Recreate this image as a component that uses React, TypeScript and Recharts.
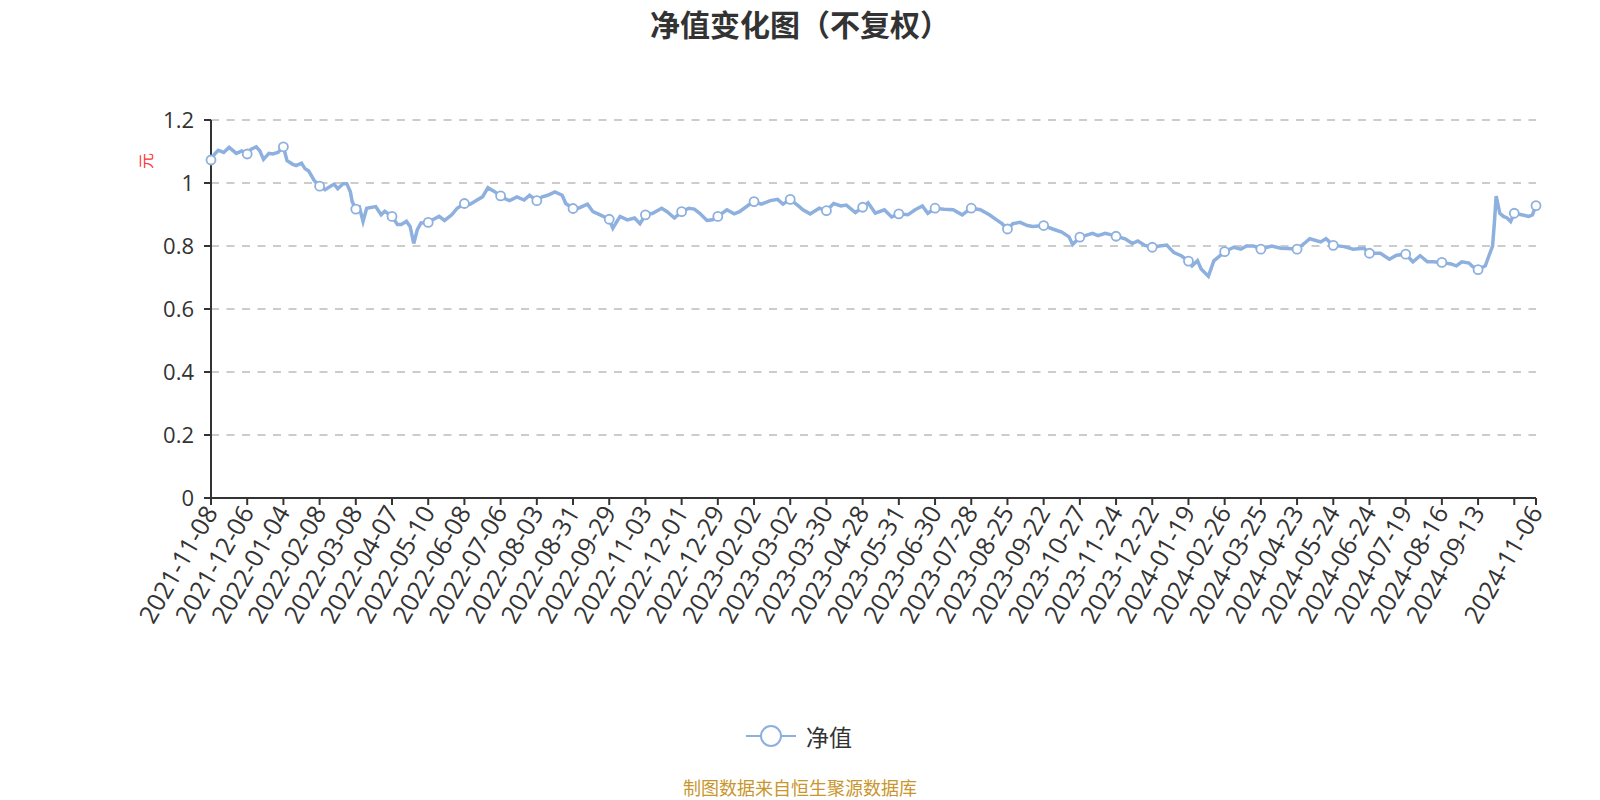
import React from 'react';
import { LineChart, Line, XAxis, YAxis, CartesianGrid } from 'recharts';

const tradingDay = [0,2,4,7,10,14,17,20,22,25,27,29,32,34,37,40,42,45,47,50,52,54,57,60,63,66,68,70,73,75,77,78,80,82,84,86,91,94,96,100,103,105,108,110,112,114,116,120,123,126,129,133,136,140,143,147,150,153,156,160,162,165,169,173,176,180,183,186,190,194,196,200,203,208,211,215,220,222,226,230,234,237,240,244,249,252,256,260,264,267,270,274,277,280,285,289,292,297,300,304,309,313,316,320,325,327,331,336,340,344,348,351,356,360,363,367,372,376,380,385,389,393,396,400,405,410,415,420,425,430,434,437,440,443,447,451,454,460,465,470,474,476,480,487,490,494,497,500,505,509,512,516,520,524,528,532,536,540,542,545,547,551,554,557,560,565,569,572,576,580,586,591,595,600,604,607,613,616,620,626,631,637,640,646,651,655,660,664,668,672,675,680,685,688,691,695,697,700,704,706,708,709,710,712,714,716,718,720,724,728,730,732];

const navValue = [1.073,1.092,1.104,1.097,1.113,1.094,1.102,1.092,1.107,1.115,1.102,1.075,1.094,1.092,1.097,1.115,1.071,1.060,1.055,1.063,1.045,1.038,1.008,0.990,0.979,0.990,0.996,0.982,0.998,0.998,0.972,0.941,0.917,0.923,0.878,0.920,0.925,0.899,0.910,0.894,0.868,0.868,0.878,0.862,0.808,0.852,0.873,0.875,0.885,0.894,0.881,0.899,0.920,0.935,0.932,0.946,0.956,0.985,0.975,0.959,0.951,0.944,0.956,0.946,0.961,0.944,0.956,0.961,0.972,0.961,0.935,0.919,0.920,0.933,0.909,0.899,0.885,0.857,0.894,0.883,0.889,0.871,0.899,0.904,0.920,0.909,0.889,0.909,0.920,0.917,0.904,0.881,0.883,0.894,0.915,0.902,0.909,0.930,0.941,0.933,0.944,0.948,0.933,0.948,0.925,0.915,0.902,0.920,0.912,0.935,0.927,0.930,0.906,0.923,0.937,0.904,0.915,0.892,0.902,0.899,0.915,0.927,0.904,0.920,0.917,0.915,0.899,0.920,0.915,0.899,0.883,0.871,0.854,0.871,0.875,0.865,0.862,0.865,0.854,0.844,0.829,0.805,0.828,0.840,0.833,0.840,0.836,0.831,0.823,0.808,0.816,0.802,0.796,0.800,0.803,0.779,0.769,0.752,0.737,0.753,0.727,0.704,0.753,0.767,0.782,0.796,0.790,0.800,0.800,0.790,0.800,0.793,0.792,0.790,0.808,0.823,0.813,0.823,0.802,0.798,0.790,0.793,0.777,0.777,0.758,0.771,0.774,0.750,0.769,0.750,0.750,0.748,0.743,0.737,0.750,0.746,0.735,0.725,0.737,0.769,0.800,0.873,0.958,0.904,0.894,0.889,0.878,0.904,0.899,0.894,0.899,0.928];

const tickDays = [0,20,40,60,80,100,120,140,160,180,200,220,240,260,280,300,320,340,360,380,400,420,440,460,480,500,520,540,560,580,600,620,640,660,680,700,720,732];
const tickDates = ['2021-11-08','2021-12-06','2022-01-04','2022-02-08','2022-03-08','2022-04-07','2022-05-10','2022-06-08','2022-07-06','2022-08-03','2022-08-31','2022-09-29','2022-11-03','2022-12-01','2022-12-29','2023-02-02','2023-03-02','2023-03-30','2023-04-28','2023-05-31','2023-06-30','2023-07-28','2023-08-25','2023-09-22','2023-10-27','2023-11-24','2023-12-22','2024-01-19','2024-02-26','2024-03-25','2024-04-23','2024-05-24','2024-06-24','2024-07-19','2024-08-16','2024-09-13','','2024-11-06'];
const yTicks = [0, 0.2, 0.4, 0.6, 0.8, 1, 1.2];

const seriesName = '净值';
const LINE_COLOR = '#8db0df';
const FONT = "'Open Sans', 'Noto Sans CJK SC', sans-serif";

const data = tradingDay.map((d, i) => ({ day: d, nav: navValue[i] }));
const lastDay = tradingDay[tradingDay.length - 1];

const XTick = (props: any) => {
  const { x, y, payload } = props;
  const idx = tickDays.indexOf(payload.value);
  const label = idx >= 0 ? tickDates[idx] : '';
  return (
    <g transform={`translate(${x},${y})`}>
      <text x={0} y={0} dy="0.35em" textAnchor="end" transform="rotate(-60)" fontSize={25} fill="#333" fontFamily={FONT}>
        {label}
      </text>
    </g>
  );
};

const renderDot = (props: any) => {
  const { cx, cy, payload, index } = props;
  const show = payload.day % 20 === 0 || payload.day === lastDay;
  if (!show) return <g key={`dot-${index}`} />;
  return <circle key={`dot-${index}`} cx={cx} cy={cy} r={4.5} fill="#fff" stroke={LINE_COLOR} strokeWidth={1.8} />;
};

export default function App() {
  return (
    <div style={{ position: 'absolute', left: 0, top: 0, width: 1600, height: 800, background: '#fff', fontFamily: FONT }}>
      <div style={{ position: 'absolute', left: 0, width: 1600, top: 3, textAlign: 'center', fontSize: 30, fontWeight: 700, color: '#333', fontFamily: "'Noto Sans CJK SC', sans-serif", lineHeight: '40px' }}>
        净值变化图（不复权）
      </div>
      <LineChart width={1600} height={800} data={data} margin={{ top: 120, right: 64, left: 131, bottom: 152 }}>
        <CartesianGrid vertical={false} stroke="#ccc" strokeWidth={2} strokeDasharray="8 7.5" />
        <XAxis
          dataKey="day"
          type="number"
          domain={[0, lastDay]}
          ticks={tickDays}
          interval={0}
          height={150}
          tick={<XTick />}
          tickSize={7}
          tickMargin={3}
          axisLine={{ stroke: '#333', strokeWidth: 2 }}
          tickLine={{ stroke: '#333', strokeWidth: 2 }}
        />
        <YAxis
          type="number"
          domain={[0, 1.2]}
          ticks={yTicks}
          interval={0}
          width={80}
          tickSize={7}
          tickMargin={10}
          tick={{ fontSize: 22, fill: '#333', fontFamily: FONT }}
          axisLine={{ stroke: '#333', strokeWidth: 2 }}
          tickLine={{ stroke: '#333', strokeWidth: 2 }}
        />
        <Line
          type="linear"
          dataKey="nav"
          name={seriesName}
          stroke={LINE_COLOR}
          strokeWidth={3.5}
          dot={renderDot}
          activeDot={false}
          isAnimationActive={false}
        />
      </LineChart>
      <div style={{ position: 'absolute', left: 145, top: 161, transform: 'translate(-50%,-50%) rotate(-90deg)', color: '#f33', fontSize: 16, fontFamily: "'Noto Sans CJK SC', sans-serif", lineHeight: '16px' }}>
        元
      </div>
      <div style={{ position: 'absolute', left: 746, top: 720, height: 32, display: 'flex', alignItems: 'center' }}>
        <svg width={52} height={32}>
          <line x1={0} y1={16} x2={50} y2={16} stroke={LINE_COLOR} strokeWidth={2} />
          <circle cx={25} cy={16} r={10} fill="#fff" stroke={LINE_COLOR} strokeWidth={2} />
        </svg>
        <span style={{ marginLeft: 8, fontSize: 23, color: '#333', fontFamily: "'Noto Sans CJK SC', sans-serif" }}>{seriesName}</span>
      </div>
      <div style={{ position: 'absolute', left: 0, width: 1600, top: 776, textAlign: 'center', fontSize: 18, color: '#c8962d', fontFamily: "'Noto Sans CJK SC', sans-serif", lineHeight: '22px' }}>
        制图数据来自恒生聚源数据库
      </div>
    </div>
  );
}
